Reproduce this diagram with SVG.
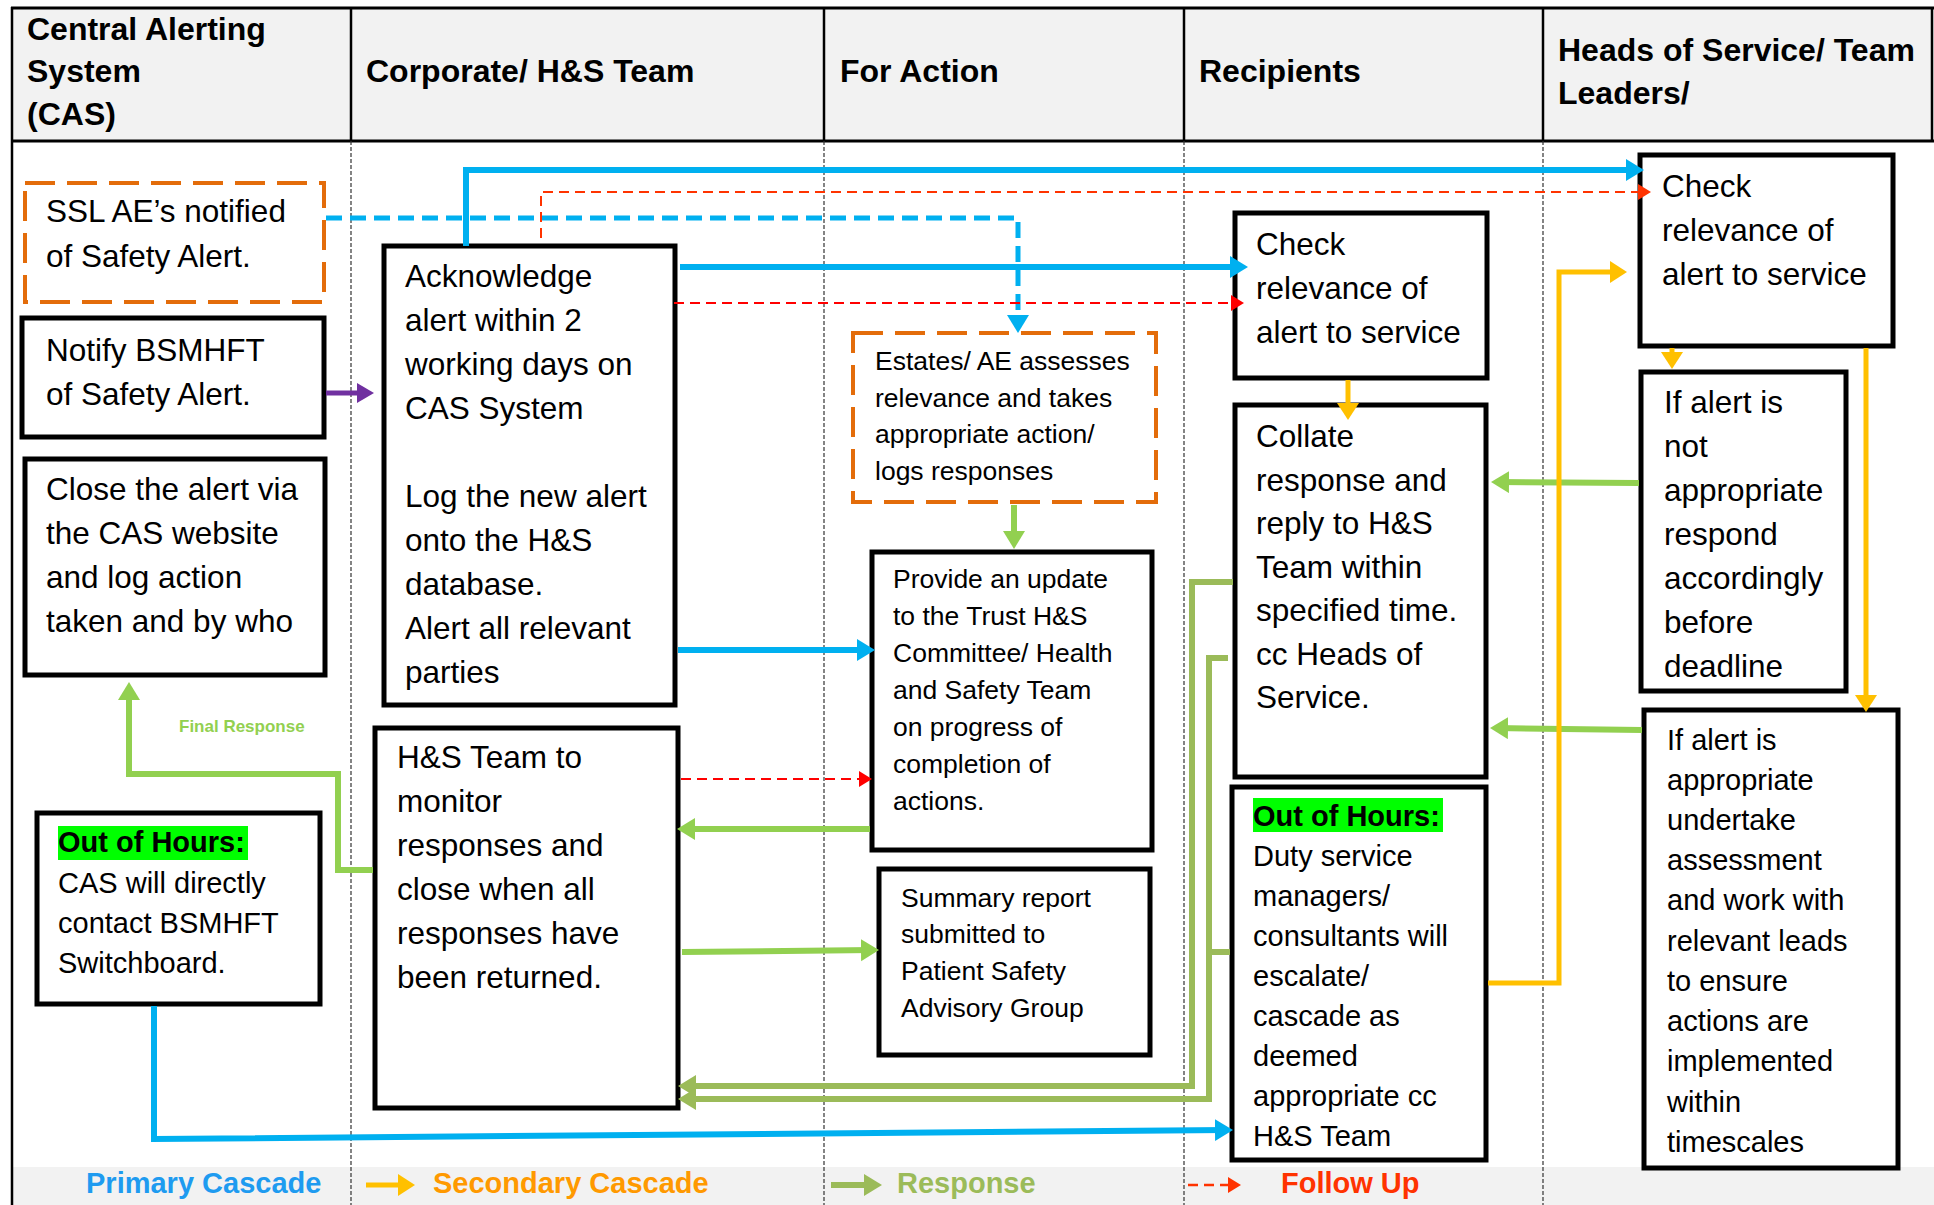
<svg xmlns="http://www.w3.org/2000/svg" width="1934" height="1205" viewBox="0 0 1934 1205">
  <defs>
    <marker id="ah-blue" markerUnits="userSpaceOnUse" markerWidth="20" markerHeight="24" refX="12" refY="11" orient="auto"><path d="M0,0 L18,11 L0,22 z" fill="#00b0f0"/></marker>
    <marker id="ah-purple" markerUnits="userSpaceOnUse" markerWidth="20" markerHeight="24" refX="12" refY="10" orient="auto"><path d="M0,0 L17,10 L0,20 z" fill="#7030a0"/></marker>
    <marker id="ah-green" markerUnits="userSpaceOnUse" markerWidth="20" markerHeight="24" refX="12" refY="11" orient="auto"><path d="M0,0 L18,11 L0,22 z" fill="#92d050"/></marker>
    <marker id="ah-olive" markerUnits="userSpaceOnUse" markerWidth="20" markerHeight="24" refX="12" refY="11" orient="auto"><path d="M0,0 L18,11 L0,22 z" fill="#9bbb59"/></marker>
    <marker id="ah-yellow" markerUnits="userSpaceOnUse" markerWidth="20" markerHeight="24" refX="11" refY="11" orient="auto"><path d="M0,0 L17,11 L0,22 z" fill="#ffc000"/></marker>
    <marker id="ah-red" markerUnits="userSpaceOnUse" markerWidth="16" markerHeight="18" refX="10" refY="8" orient="auto"><path d="M0,0 L13,8 L0,16 z" fill="#ff0000"/></marker>
    <marker id="ah-orange-red" markerUnits="userSpaceOnUse" markerWidth="16" markerHeight="18" refX="10" refY="8" orient="auto"><path d="M0,0 L13,8 L0,16 z" fill="#ff3300"/></marker>
  </defs>
  <style>
    .t{font-family:"Liberation Sans",Arial,Helvetica,sans-serif;fill:#000;}
    .hdr{font-size:32px;font-weight:bold;}
    .big{font-size:31.5px;}
    .mid{font-size:29px;}
    .sm{font-size:26.5px;}
    .bold{font-weight:bold;}
    .box{fill:#fff;stroke:#000;stroke-width:5;}
    .dbox{fill:#fff;stroke:#e36c0a;stroke-width:4;stroke-dasharray:30 12;}
    .lane{stroke:#333;stroke-width:1.2;stroke-dasharray:4 2;fill:none;}
    .frame{stroke:#000;fill:none;}
    .hl{fill:#00ff00;}
    .c{fill:none;}
    .blue{stroke:#00b0f0;stroke-width:6;}
    .blue-dash{stroke:#00b0f0;stroke-width:5;stroke-dasharray:16 8;}
    .purple{stroke:#7030a0;stroke-width:5;}
    .green{stroke:#92d050;stroke-width:6;}
    .olive{stroke:#9bbb59;stroke-width:6;}
    .yellow{stroke:#ffc000;stroke-width:5;}
    .red{stroke:#ff0000;stroke-width:2;stroke-dasharray:10 6;}
    .ored{stroke:#ff3300;stroke-width:2;stroke-dasharray:10 6;}
  </style>

  <!-- page background -->
  <rect x="0" y="0" width="1934" height="1205" fill="#fff"/>

  <!-- swimlane frame -->
  <g id="lanes">
    <rect x="12" y="8" width="1922" height="133" fill="#f2f2f2"/>
    <rect x="13" y="1167" width="1921" height="38" fill="#f2f2f2"/>
    <line class="frame" x1="11" y1="8" x2="1934" y2="8" stroke-width="3"/>
    <line class="frame" x1="11" y1="141" x2="1934" y2="141" stroke-width="3"/>
    <line class="frame" x1="12" y1="7" x2="12" y2="1205" stroke-width="2.5"/>
    <line class="frame" x1="1932" y1="7" x2="1932" y2="141" stroke-width="2.5"/>
    <line class="frame" x1="351" y1="8" x2="351" y2="141" stroke-width="2.5"/>
    <line class="frame" x1="824" y1="8" x2="824" y2="141" stroke-width="2.5"/>
    <line class="frame" x1="1184" y1="8" x2="1184" y2="141" stroke-width="2.5"/>
    <line class="frame" x1="1543" y1="8" x2="1543" y2="141" stroke-width="2.5"/>
    <line class="lane" x1="351" y1="141" x2="351" y2="1205"/>
    <line class="lane" x1="824" y1="141" x2="824" y2="1205"/>
    <line class="lane" x1="1184" y1="141" x2="1184" y2="1205"/>
    <line class="lane" x1="1543" y1="141" x2="1543" y2="1205"/>
    <text class="t hdr"><tspan x="27" y="40">Central Alerting</tspan><tspan x="27" y="82">System</tspan><tspan x="27" y="125">(CAS)</tspan></text>
    <text class="t hdr" x="366" y="82">Corporate/ H&amp;S Team</text>
    <text class="t hdr" x="840" y="82">For Action</text>
    <text class="t hdr" x="1199" y="82">Recipients</text>
    <text class="t hdr"><tspan x="1558" y="61">Heads of Service/ Team</tspan><tspan x="1558" y="104">Leaders/</tspan></text>
  </g>

  <!-- CAS lane -->
  <g id="ssl-ae-notified">
    <rect class="dbox" x="25" y="183" width="299" height="119"/>
    <text class="t big"><tspan x="46" y="222">SSL AE’s notified</tspan><tspan x="46" y="267">of Safety Alert.</tspan></text>
  </g>
  <g id="notify-bsmhft">
    <rect class="box" x="22" y="318" width="302" height="119"/>
    <text class="t big"><tspan x="46" y="361">Notify BSMHFT</tspan><tspan x="46" y="405">of Safety Alert.</tspan></text>
  </g>
  <g id="close-alert">
    <rect class="box" x="25" y="459" width="300" height="216"/>
    <text class="t big"><tspan x="46" y="500">Close the alert via</tspan><tspan x="46" y="544">the CAS website</tspan><tspan x="46" y="588">and log action</tspan><tspan x="46" y="632">taken and by who</tspan></text>
  </g>
  <g id="final-response-label">
    <text class="t bold" x="179" y="732" font-size="17" style="fill:#92d050">Final Response</text>
  </g>
  <g id="cas-out-of-hours">
    <rect class="box" x="37" y="813" width="283" height="191"/>
    <rect class="hl" x="58" y="826" width="190" height="34"/>
    <text class="t mid bold" x="58" y="852">Out of Hours:</text>
    <text class="t mid"><tspan x="58" y="893">CAS will directly</tspan><tspan x="58" y="933">contact BSMHFT</tspan><tspan x="58" y="973">Switchboard.</tspan></text>
  </g>

  <!-- Corporate / H&S lane -->
  <g id="acknowledge-alert">
    <rect class="box" x="384" y="246" width="291" height="459"/>
    <text class="t big"><tspan x="405" y="287">Acknowledge</tspan><tspan x="405" y="331">alert within 2</tspan><tspan x="405" y="375">working days on</tspan><tspan x="405" y="419">CAS System</tspan><tspan x="405" y="507">Log the new alert</tspan><tspan x="405" y="551">onto the H&amp;S</tspan><tspan x="405" y="595">database.</tspan><tspan x="405" y="639">Alert all relevant</tspan><tspan x="405" y="683">parties</tspan></text>
  </g>
  <g id="monitor-responses">
    <rect class="box" x="375" y="728" width="303" height="380"/>
    <text class="t big"><tspan x="397" y="768">H&amp;S Team to</tspan><tspan x="397" y="812">monitor</tspan><tspan x="397" y="856">responses and</tspan><tspan x="397" y="900">close when all</tspan><tspan x="397" y="944">responses have</tspan><tspan x="397" y="988">been returned.</tspan></text>
  </g>

  <!-- For Action lane -->
  <g id="estates-assess">
    <rect class="dbox" x="853" y="333" width="303" height="169"/>
    <text class="t sm"><tspan x="875" y="370">Estates/ AE assesses</tspan><tspan x="875" y="407">relevance and takes</tspan><tspan x="875" y="443">appropriate action/</tspan><tspan x="875" y="480">logs responses</tspan></text>
  </g>
  <g id="provide-update">
    <rect class="box" x="872" y="552" width="280" height="298"/>
    <text class="t sm"><tspan x="893" y="588">Provide an update</tspan><tspan x="893" y="625">to the Trust H&amp;S</tspan><tspan x="893" y="662">Committee/ Health</tspan><tspan x="893" y="699">and Safety Team</tspan><tspan x="893" y="736">on progress of</tspan><tspan x="893" y="773">completion of</tspan><tspan x="893" y="810">actions.</tspan></text>
  </g>
  <g id="summary-report">
    <rect class="box" x="879" y="869" width="271" height="186"/>
    <text class="t sm"><tspan x="901" y="907">Summary report</tspan><tspan x="901" y="943">submitted to</tspan><tspan x="901" y="980">Patient Safety</tspan><tspan x="901" y="1017">Advisory Group</tspan></text>
  </g>

  <!-- Recipients lane -->
  <g id="recipients-check">
    <rect class="box" x="1235" y="213" width="252" height="165"/>
    <text class="t big"><tspan x="1256" y="255">Check</tspan><tspan x="1256" y="299">relevance of</tspan><tspan x="1256" y="343">alert to service</tspan></text>
  </g>
  <g id="collate-response">
    <rect class="box" x="1235" y="405" width="251" height="372"/>
    <text class="t big"><tspan x="1256" y="447">Collate</tspan><tspan x="1256" y="490.5">response and</tspan><tspan x="1256" y="534">reply to H&amp;S</tspan><tspan x="1256" y="577.5">Team within</tspan><tspan x="1256" y="621">specified time.</tspan><tspan x="1256" y="664.5">cc Heads of</tspan><tspan x="1256" y="708">Service.</tspan></text>
  </g>
  <g id="recipients-out-of-hours">
    <rect class="box" x="1232" y="787" width="254" height="373"/>
    <rect class="hl" x="1253" y="798" width="190" height="34"/>
    <text class="t mid bold" x="1253" y="826">Out of Hours:</text>
    <text class="t mid"><tspan x="1253" y="866">Duty service</tspan><tspan x="1253" y="906">managers/</tspan><tspan x="1253" y="946">consultants will</tspan><tspan x="1253" y="986">escalate/</tspan><tspan x="1253" y="1026">cascade as</tspan><tspan x="1253" y="1066">deemed</tspan><tspan x="1253" y="1106">appropriate cc</tspan><tspan x="1253" y="1146">H&amp;S Team</tspan></text>
  </g>

  <!-- Heads of Service lane -->
  <g id="heads-check">
    <rect class="box" x="1640" y="155" width="253" height="191"/>
    <text class="t big"><tspan x="1662" y="197">Check</tspan><tspan x="1662" y="241">relevance of</tspan><tspan x="1662" y="285">alert to service</tspan></text>
  </g>
  <g id="not-appropriate">
    <rect class="box" x="1641" y="372" width="205" height="319"/>
    <text class="t big"><tspan x="1664" y="413">If alert is</tspan><tspan x="1664" y="457">not</tspan><tspan x="1664" y="501">appropriate</tspan><tspan x="1664" y="545">respond</tspan><tspan x="1664" y="589">accordingly</tspan><tspan x="1664" y="633">before</tspan><tspan x="1664" y="677">deadline</tspan></text>
  </g>
  <g id="appropriate">
    <rect class="box" x="1644" y="710" width="254" height="458"/>
    <text class="t mid"><tspan x="1667" y="750">If alert is</tspan><tspan x="1667" y="790">appropriate</tspan><tspan x="1667" y="830">undertake</tspan><tspan x="1667" y="870">assessment</tspan><tspan x="1667" y="910">and work with</tspan><tspan x="1667" y="951">relevant leads</tspan><tspan x="1667" y="991">to ensure</tspan><tspan x="1667" y="1031">actions are</tspan><tspan x="1667" y="1071">implemented</tspan><tspan x="1667" y="1112">within</tspan><tspan x="1667" y="1152">timescales</tspan></text>
  </g>

  <!-- connectors, drawn over the box borders so arrowheads stay visible -->
  <g id="connectors">
    <!-- primary cascade -->
    <path class="c blue" d="M466,246 V170 H1638" marker-end="url(#ah-blue)"/>
    <path class="c blue" d="M680,267 H1242" marker-end="url(#ah-blue)"/>
    <path class="c blue" d="M678,650 H869" marker-end="url(#ah-blue)"/>
    <path class="c blue" d="M154,1006 V1139 L1227,1130" marker-end="url(#ah-blue)"/>
    <path class="c blue-dash" d="M326,218 H1018 V327" marker-end="url(#ah-blue)"/>
    <path class="c purple" d="M326,393 H369" marker-end="url(#ah-purple)"/>
    <!-- follow up -->
    <path class="c ored" d="M541,238 V192 H1648" marker-end="url(#ah-orange-red)"/>
    <path class="c red" d="M674,303 H1241" marker-end="url(#ah-red)"/>
    <path class="c red" d="M681,779 H869" marker-end="url(#ah-red)"/>
    <!-- responses -->
    <path class="c green" d="M1014,505 V543" marker-end="url(#ah-green)"/>
    <path class="c green" d="M870,829 H683" marker-end="url(#ah-green)"/>
    <path class="c green" d="M682,952 L873,950" marker-end="url(#ah-green)"/>
    <path class="c green" d="M373,870 H338 V774 H129 V688" marker-end="url(#ah-green)"/>
    <path class="c olive" d="M1233,582 H1192 V1086 H684" marker-end="url(#ah-olive)"/>
    <path class="c olive" d="M1228,658 H1209 V1099 H684" marker-end="url(#ah-olive)"/>
    <path class="c olive" d="M1230,952 H1209"/>
    <path class="c green" d="M1639,483 L1497,482" marker-end="url(#ah-green)"/>
    <path class="c green" d="M1642,730 L1496,728" marker-end="url(#ah-green)"/>
    <!-- secondary cascade -->
    <path class="c yellow" d="M1348,380 V414" marker-end="url(#ah-yellow)"/>
    <path class="c yellow" d="M1672,348 V363" marker-end="url(#ah-yellow)"/>
    <path class="c yellow" d="M1866,348 V706" marker-end="url(#ah-yellow)"/>
    <path class="c yellow" d="M1488,983 H1559 V272 H1621" marker-end="url(#ah-yellow)"/>
  </g>

  <!-- key -->
  <g id="legend">
    <text class="t mid bold" x="86" y="1193" style="fill:#1e9bf0">Primary Cascade</text>
    <path class="c yellow" d="M366,1185 H409" marker-end="url(#ah-yellow)"/>
    <text class="t mid bold" x="433" y="1193" style="fill:#ff9900">Secondary Cascade</text>
    <path class="c olive" d="M831,1185 H876" marker-end="url(#ah-olive)"/>
    <text class="t mid bold" x="897" y="1193" style="fill:#9bbb59">Response</text>
    <path class="c ored" d="M1188,1185 H1238" marker-end="url(#ah-orange-red)" style="stroke-width:2.5"/>
    <text class="t mid bold" x="1281" y="1193" style="fill:#ff3300">Follow Up</text>
  </g>
</svg>
